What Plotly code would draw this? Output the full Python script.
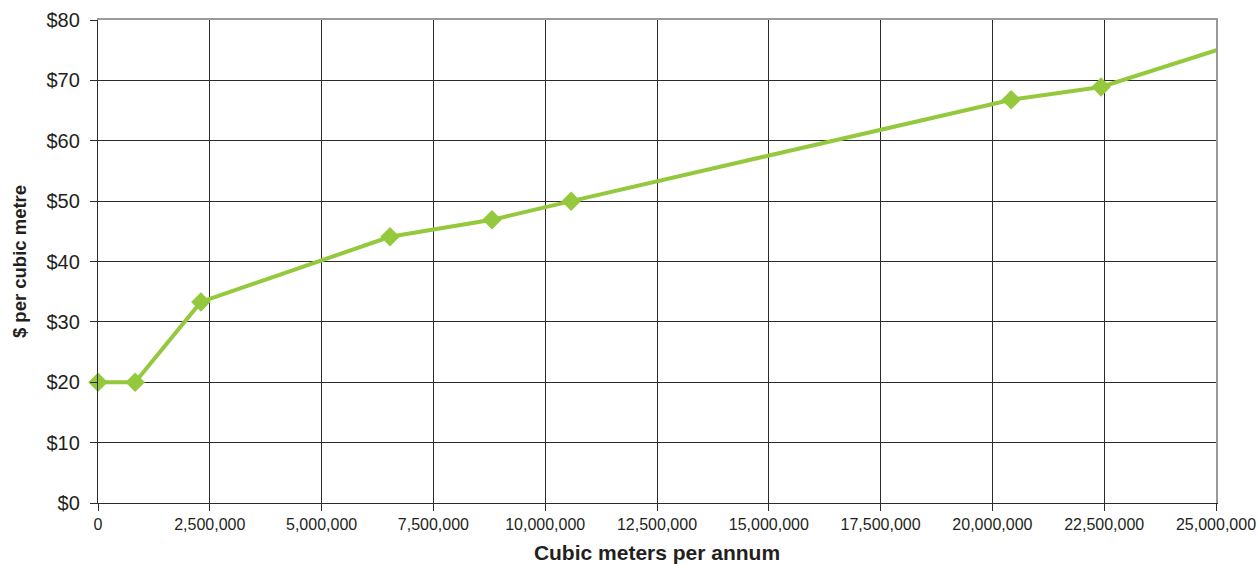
import plotly.graph_objects as go

# Annual volume (cubic metres) and unit cost ($ per cubic metre)
volume = [0, 830000, 2300000, 6530000, 8810000, 10580000, 20420000, 22430000, 25180000]
cost = [20.0, 20.0, 33.3, 44.1, 46.9, 50.0, 66.8, 68.9, 75.4]
marker_sizes = [15, 15, 15, 15, 15, 15, 15, 15, 0]

x_ticks = [0, 2500000, 5000000, 7500000, 10000000, 12500000, 15000000,
           17500000, 20000000, 22500000, 25000000]
x_labels = ["0", "2,500,000", "5,000,000", "7,500,000", "10,000,000", "12,500,000",
            "15,000,000", "17,500,000", "20,000,000", "22,500,000", "25,000,000"]
y_ticks = [0, 10, 20, 30, 40, 50, 60, 70, 80]
y_labels = ["$0", "$10", "$20", "$30", "$40", "$50", "$60", "$70", "$80"]

green = "#94c83d"
dark = "#2b2b2b"
grey = "#9a9a9a"
font = "Liberation Sans, Arial, Helvetica, sans-serif"

fig = go.Figure()
fig.add_trace(go.Scatter(
    x=volume, y=cost, mode="lines+markers",
    line=dict(color=green, width=4),
    marker=dict(symbol="diamond", size=marker_sizes, color=green, opacity=1,
                line=dict(width=0)),
    cliponaxis=False, showlegend=False,
))

fig.update_layout(
    width=1258, height=565,
    margin=dict(l=98, r=42, t=20, b=62),
    paper_bgcolor="white", plot_bgcolor="white",
    font=dict(family=font, size=16, color="#231f20"),
    xaxis=dict(
        range=[0, 25000000], tickmode="array", tickvals=x_ticks, ticktext=x_labels,
        tickfont=dict(size=16), automargin=False,
        showgrid=True, gridcolor=dark, gridwidth=1,
        showline=True, linecolor=dark, linewidth=1.3,
        ticks="outside", ticklen=7, tickcolor=dark,
        zeroline=False,
        title=dict(text="<b>Cubic meters per annum</b>", font=dict(size=21), standoff=12),
    ),
    yaxis=dict(
        range=[0, 80], tickmode="array", tickvals=y_ticks, ticktext=y_labels,
        tickfont=dict(size=20), automargin=False, ticklabelstandoff=6,
        showgrid=True, gridcolor=dark, gridwidth=1,
        showline=True, linecolor=dark, linewidth=1.3,
        ticks="outside", ticklen=7, tickcolor=dark,
        zeroline=False,
        title=dict(text="<b>$ per cubic metre</b>", font=dict(size=18.5), standoff=14),
    ),
    # grey frame on the top and right sides
    xaxis2=dict(overlaying="x", side="top", range=[0, 25000000], showline=True,
                linecolor=grey, linewidth=1.5, showticklabels=False, showgrid=False,
                zeroline=False, ticks="", automargin=False),
    yaxis2=dict(overlaying="y", side="right", range=[0, 80], showline=True,
                linecolor=grey, linewidth=1.5, showticklabels=False, showgrid=False,
                zeroline=False, ticks="", automargin=False),
)

# invisible trace to activate the frame axes
fig.add_trace(go.Scatter(x=[None], y=[None], xaxis="x2", yaxis="y2",
                         showlegend=False, hoverinfo="skip"))

fig.write_html("out.html")
